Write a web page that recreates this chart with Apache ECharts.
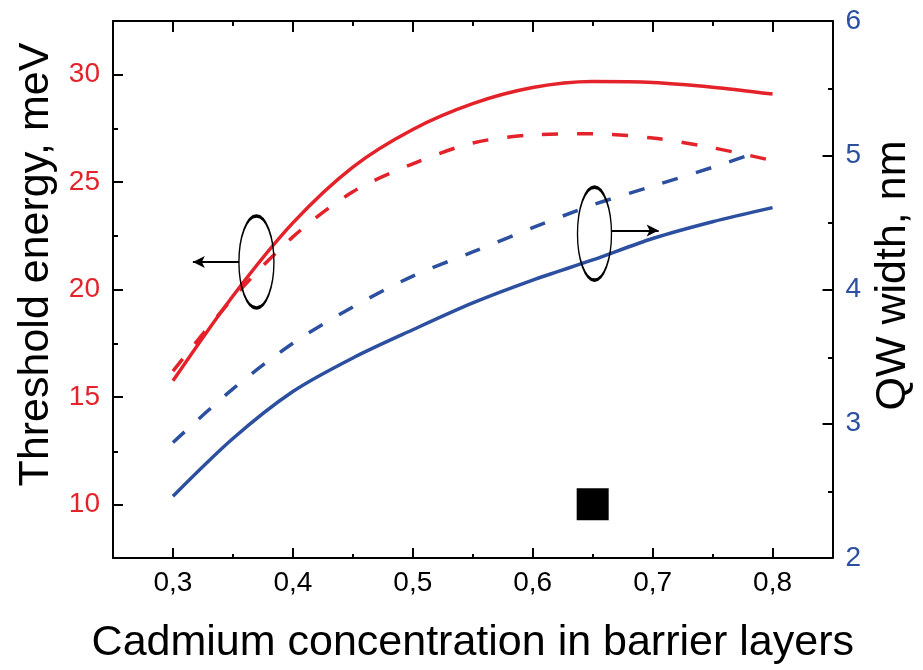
<!DOCTYPE html>
<html>
<head>
<meta charset="utf-8">
<script src="https://cdn.jsdelivr.net/npm/echarts@6/dist/echarts.min.js"></script>
<style>
html,body{margin:0;padding:0;background:#fff;}
#c{width:923px;height:670px;}
</style>
</head>
<body>
<div id="c"></div>
<script>
// ---- data ----
const xVals = [0.30, 0.35, 0.40, 0.45, 0.50, 0.55, 0.60, 0.65, 0.70, 0.75, 0.80];
const redSolid = [15.75, 19.7, 23.1, 25.7, 27.45, 28.65, 29.4, 29.68, 29.64, 29.42, 29.1];
const redDashed = [16.2, 19.6, 22.45, 24.55, 25.85, 26.82, 27.2, 27.25, 27.05, 26.6, 26.0];
const blueSolid = [2.46, 2.89, 3.24, 3.49, 3.70, 3.90, 4.07, 4.22, 4.38, 4.505, 4.61];
const blueDashedX = [0.30, 0.35, 0.40, 0.45, 0.50, 0.55, 0.60, 0.65, 0.70, 0.75, 0.79];
const blueDashed = [2.86, 3.26, 3.60, 3.87, 4.10, 4.28, 4.46, 4.63, 4.77, 4.91, 5.03];
const squarePoint = [0.65, 10];
const xMajor = [0.3, 0.4, 0.5, 0.6, 0.7, 0.8];
const xMinor = [0.35, 0.45, 0.55, 0.65, 0.75];
const leftMajor = [10, 15, 20, 25, 30];
const leftMinor = [12.5, 17.5, 22.5, 27.5];
const rightMajor = [2, 3, 4, 5, 6];
const rightMinor = [2.5, 3.5, 4.5, 5.5];
// annotation anchors (data coordinates)
const leftEllipse = [0.3696, 21.28];
const leftArrow = [[0.3552, 21.28], [0.3166, 21.28]];
const rightEllipse = [0.6515, 4.416];
const rightArrow = [[0.6660, 4.44], [0.7050, 4.44]];

const RED = '#e4222a';
const BLUE = '#2c4f9f';
const FONT = '"Liberation Sans", Arial, sans-serif';

const pair = (xs, ys) => xs.map((x, i) => [x, ys[i]]);
const fmtX = v => v.toFixed(1).replace('.', ',');

const chart = echarts.init(document.getElementById('c'), null, {renderer: 'canvas'});

const axLine = {show: true, lineStyle: {color: '#000', width: 2}};
const grid = {left: 113, right: 90, top: 21, bottom: 111};

function xAx(gridIndex, position, ticks, len, labels, lineShow, name) {
  return {
    type: 'value', gridIndex, position, min: 0.25, max: 0.85, interval: 0.05,
    axisLine: lineShow ? axLine : {show: false},
    axisTick: {show: true, inside: true, length: len, customValues: ticks, lineStyle: {color: '#000', width: 2}},
    axisLabel: labels ? {show: true, customValues: xMajor, formatter: fmtX, color: '#000', fontSize: 28, fontFamily: FONT, margin: 11} : {show: false},
    splitLine: {show: false},
    name: name || '', nameLocation: 'middle', nameGap: 64,
    nameTextStyle: {color: '#000', fontSize: 43, fontFamily: FONT}
  };
}
function yAx(gridIndex, position, min, max, interval, ticks, len, labelVals, color, lineShow, name, nameGap, shiftUp) {
  return {
    type: 'value', gridIndex, position, min, max, interval,
    axisLine: lineShow ? axLine : {show: false},
    axisTick: {show: true, inside: true, length: len, customValues: ticks, lineStyle: {color: '#000', width: 2}},
    axisLabel: labelVals ? {show: true, customValues: labelVals, color, fontSize: 28, fontFamily: FONT, margin: 13} : {show: false},
    splitLine: {show: false},
    name: name || '', nameLocation: 'middle', nameGap: nameGap || 0,
    nameTextStyle: {color: '#000', fontSize: 43, fontFamily: FONT, padding: [0, 0, 0, (shiftUp || 0) * 2]}
  };
}

const lineSeries = (data, color, yIdx, dashed) => ({
  type: 'line', xAxisIndex: 0, yAxisIndex: yIdx, data, smooth: 0.3,
  showSymbol: false, symbol: 'none',
  lineStyle: {color, width: 3.5, type: dashed ? [16, 19] : 'solid', cap: 'butt'},
  emphasis: {disabled: true}, silent: true, z: 3
});

const arrowLine = (pts) => ({
  silent: true, symbol: ['none', 'arrow'], symbolSize: [9, 12],
  label: {show: false},
  lineStyle: {color: '#000', width: 2, type: 'solid', opacity: 1},
  itemStyle: {color: '#000', opacity: 1},
  emphasis: {disabled: true},
  data: [[{coord: pts[0]}, {coord: pts[1]}]]
});

chart.setOption({
  animation: false,
  backgroundColor: '#fff',
  grid: [grid, grid],
  xAxis: [
    xAx(0, 'bottom', xMajor, 10, true, true, 'Cadmium concentration in barrier layers'),
    xAx(0, 'top', xMajor, 11, false, true),
    xAx(1, 'bottom', xMinor, 5, false, false),
    xAx(1, 'top', xMinor, 5, false, false)
  ],
  yAxis: [
    yAx(0, 'left', 7.5, 32.5, 2.5, leftMajor, 10, leftMajor, RED, true, 'Threshold energy, meV', 55, 25),
    yAx(0, 'right', 2, 6, 1, rightMajor, 10, rightMajor, BLUE, true, 'QW width, nm', 36, 14),
    yAx(1, 'left', 7.5, 32.5, 2.5, leftMinor, 5, null, RED, false),
    yAx(1, 'right', 2, 6, 1, rightMinor, 5, null, BLUE, false)
  ],
  series: [
    Object.assign(lineSeries(pair(xVals, redSolid), RED, 0, false), {markLine: arrowLine(leftArrow)}),
    lineSeries(pair(xVals, redDashed), RED, 0, true),
    Object.assign(lineSeries(pair(xVals, blueSolid), BLUE, 1, false), {markLine: arrowLine(rightArrow)}),
    lineSeries(pair(blueDashedX, blueDashed), BLUE, 1, true),
    {
      type: 'scatter', xAxisIndex: 0, yAxisIndex: 0, data: [squarePoint],
      symbol: 'rect', symbolSize: 32, itemStyle: {color: '#000', opacity: 1}, silent: true
    },
    {
      type: 'scatter', xAxisIndex: 0, yAxisIndex: 0, data: [leftEllipse],
      symbol: 'circle', symbolSize: [35, 92],
      itemStyle: {color: 'rgba(0,0,0,0)', borderColor: '#000', borderWidth: 2.2, opacity: 1}, silent: true, z: 4
    },
    {
      type: 'scatter', xAxisIndex: 0, yAxisIndex: 1, data: [rightEllipse],
      symbol: 'circle', symbolSize: [34, 93],
      itemStyle: {color: 'rgba(0,0,0,0)', borderColor: '#000', borderWidth: 2.2, opacity: 1}, silent: true, z: 4
    }
  ]
});
</script>
</body>
</html>
